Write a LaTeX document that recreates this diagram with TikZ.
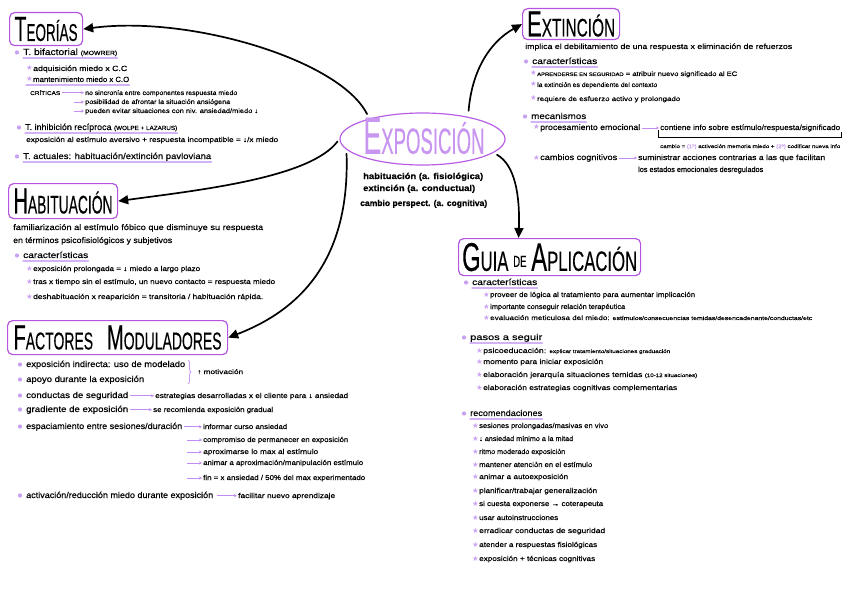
\documentclass[tikz,border=0pt]{standalone}
\usepackage{fontspec}
\setmainfont{Liberation Sans}[FakeBold=0.35]
\newfontfamily\djv{DejaVu Sans}
\usepackage{graphicx}
\usetikzlibrary{arrows.meta,decorations.pathreplacing,shapes.geometric}
\definecolor{boxc}{RGB}{180,85,225}
\definecolor{ellc}{RGB}{185,95,230}
\definecolor{bulc}{RGB}{200,160,240}
\definecolor{undc}{RGB}{212,178,248}
\definecolor{starc}{RGB}{205,165,245}
\definecolor{arrc}{RGB}{195,140,240}
\definecolor{expc}{RGB}{200,150,240}
\newcommand\fw[2]{\resizebox{#1pt}{\height}{#2}}
\newcommand\fs[1]{\fontsize{#1}{#1}\selectfont}
\newcommand\stg{\makebox[7pt][l]{\djv\fs{7.5}\textcolor{starc}{★}}}
\newcommand\ul[1]{\draw[undc,line width=1.1pt,line cap=round] ([yshift=-3pt]#1.base west) -- ([yshift=-3pt]#1.base east);}
\newcommand\bu[1]{\fill[bulc] ([xshift=-6pt,yshift=2.5pt]#1.base west) circle (2.1pt);}
\tikzset{
  t/.style={anchor=base west, inner sep=0pt, yshift=-2pt},
  s5/.style={t,font=\fontsize{5}{6}\selectfont},
  s55/.style={t,font=\fontsize{5.5}{6}\selectfont},
  s65/.style={t,font=\fontsize{6.5}{7}\selectfont},
  s7/.style={t,font=\fontsize{7}{8}\selectfont},
  s75/.style={t,font=\fontsize{7.5}{8}\selectfont},
  s8/.style={t,font=\fontsize{8}{9}\selectfont},
  s85/.style={t,font=\fontsize{8.5}{9}\selectfont},
  s9/.style={t,font=\fontsize{9}{10}\selectfont},
  cb/.style={t,font=\bfseries\fontsize{8.5}{9}\selectfont},
  st/.style={execute at begin node={\stg}},
  titlebox/.style={draw=boxc, line width=1.2pt, rounded corners=5pt, inner sep=0pt, anchor=north west},
  parr/.style={draw=arrc, line width=0.8pt, -{Stealth[length=3pt,width=3pt]}, shorten <=1.5pt, shorten >=1pt},
  bigarr/.style={line width=1.7pt, -{Triangle[length=10pt,width=9pt]}, line cap=round}
}
\begin{document}
\begin{tikzpicture}[x=1pt,y=-1pt]
\fill[white] (0,0) rectangle (848,599);
\useasboundingbox (0,0) rectangle (848,599);

% ---------- titles ----------
\node[titlebox, minimum width=73pt, minimum height=33pt] (teorias) at (9,12)
  {\resizebox{63pt}{24pt}{\fs{20}T\fs{14}EORÍAS}};
\node[titlebox, minimum width=109pt, minimum height=35pt] (habit) at (8,183)
  {\resizebox{99pt}{25pt}{\fs{20}H\fs{14}ABITUACIÓN}};
\node[titlebox, minimum width=220pt, minimum height=34pt] (factores) at (7,320)
  {\resizebox{208pt}{24pt}{\fs{20}F\fs{14}ACTORES\hspace{14pt}\fs{20}M\fs{14}ODULADORES}};
\node[titlebox, minimum width=97pt, minimum height=31pt] (extinct) at (522,8)
  {\resizebox{88pt}{25pt}{\fs{20}E\fs{14}XTINCIÓN}};
\node[titlebox, minimum width=182pt, minimum height=37pt] (guia) at (458,238)
  {\resizebox{175pt}{28pt}{\fs{20}G\fs{14}UIA\hspace{4pt}\raisebox{2pt}{\fs{8}DE}\hspace{4pt}\fs{20}A\fs{14}PLICACIÓN}};

% ---------- centre ----------
\node[ellipse, draw=ellc, line width=1.2pt, minimum width=165pt, minimum height=52pt, inner sep=0pt] (expo) at (422.5,139) {};
\node[inner sep=0pt, text=expc] (expotxt) at (424,136)
  {\resizebox{121pt}{36pt}{\fs{20}E\fs{14}XPOSICIÓN}};
\node[cb] (c1) at (363,177) {\fw{120}{habituación (a. fisiológica)}};
\node[cb] (c2) at (363,189) {\fw{112}{extinción (a. conductual)}};
\node[cb] (c3) at (360,204) {\fw{127}{cambio perspect. (a. cognitiva)}};

% ---------- big arrows ----------
\draw[bigarr, shorten <=5pt] (expo.159) .. controls (340,60) and (190,15) .. (teorias.east);
\draw[bigarr, shorten <=3pt] (expo.180) .. controls (310,178) and (200,190) .. (habit.east);
\draw[bigarr, shorten <=4pt] (expo.188) .. controls (350,260) and (300,310) .. (factores.east);
\draw[bigarr, shorten <=6pt] (expo.26) .. controls (472,70) and (490,42) .. (extinct.west);
\draw[bigarr, shorten <=4pt] (expo.-11) .. controls (515,165) and (520,195) .. ([xshift=-31pt]guia.north);

% ---------- TEORIAS ----------
\node[s9] (bif) at (23,53) {\fw{94}{T. bifactorial {\fs{6}(MOWRER)}}};
\bu{bif}\ul{bif}
\node[s75,st] (adq) at (26,69) {\fw{94}{adquisición miedo x C.C}};
\node[s75,st] (mant) at (26,80) {\fw{96}{mantenimiento miedo x C.O}};
\ul{mant}
\node[s55] (crit) at (30,93) {\fw{30}{CRÍTICAS}};
\node[s65] (nosinc) at (85,93) {\fw{152}{no sincronía entre componentes respuesta miedo}};
\node[s65] (posib) at (85,102) {\fw{145}{posibilidad de afrontar la situación ansiógena}};
\node[s65] (evit) at (85,111) {\fw{173}{pueden evitar situaciones con niv. ansiedad/miedo ↓}};
\coordinate (cr2) at (72,102);
\coordinate (cr3) at (72,111);
\draw[parr] (crit.east) -- (crit.east -| nosinc.west);
\draw[parr] (cr2) -- (cr2 -| posib.west);
\draw[parr] (cr3) -- (cr3 -| evit.west);
\node[s85] (inhib) at (25,128) {\fw{152}{T. inhibición recíproca {\fs{6}(WOLPE + LAZARUS)}}};
\bu{inhib}\ul{inhib}
\node[s7] (expal) at (26,140) {\fw{252}{exposición al estímulo aversivo + respuesta incompatible = ↓/x miedo}};
\node[s85] (actual) at (23,157) {\fw{188}{T. actuales: habituación/extinción pavloviana}};
\bu{actual}\ul{actual}

% ---------- HABITUACION ----------
\node[s8] (fam1) at (13,228) {\fw{250}{familiarización al estímulo fóbico que disminuye su respuesta}};
\node[s8] (fam2) at (13,241) {\fw{159}{en términos psicofisiológicos y subjetivos}};
\node[s85] (carH) at (23,256) {\fw{65}{características}};
\bu{carH}\ul{carH}
\node[s7,st] (h1) at (26,269) {\fw{167}{exposición prolongada = ↓ miedo a largo plazo}};
\node[s7,st] (h2) at (26,282) {\fw{242}{tras x tiempo sin el estímulo, un nuevo contacto = respuesta miedo}};
\node[s7,st] (h3) at (26,297) {\fw{230}{deshabituación x reaparición = transitoria / habituación rápida.}};

% ---------- FACTORES ----------
\node[s85] (f1) at (26,365) {\fw{159}{exposición indirecta: uso de modelado}};
\node[s85] (f2) at (26,380) {\fw{118}{apoyo durante la exposición}};
\bu{f1}\bu{f2}
\draw[bulc, line width=0.9pt, decorate, decoration={brace, amplitude=3pt}] (188,360) -- (188,384);
\node[s65] (motiv) at (197,372) {\fw{46}{↑ motivación}};
\node[s85] (f3) at (26,396) {\fw{102}{conductas de seguridad}};
\node[s7] (f3r) at (155,396) {\fw{193}{estrategias desarrolladas x el cliente para ↓ ansiedad}};
\node[s85] (f4) at (26,410) {\fw{102}{gradiente de exposición}};
\node[s7] (f4r) at (153,410) {\fw{120}{se recomienda exposición gradual}};
\node[s85] (f5) at (26,427) {\fw{156}{espaciamiento entre sesiones/duración}};
\node[s7] (f5a) at (203,427) {\fw{84}{informar curso ansiedad}};
\node[s7] (f5b) at (203,440) {\fw{145}{compromiso de permanecer en exposición}};
\node[s7] (f5c) at (203,452) {\fw{115}{aproximarse lo max al estímulo}};
\node[s7] (f5d) at (203,463) {\fw{160}{animar a aproximación/manipulación estímulo}};
\node[s7] (f5e) at (203,478) {\fw{162}{fin = x ansiedad / 50\% del max experimentado}};
\node[s85] (f6) at (26,496) {\fw{187}{activación/reducción miedo durante exposición}};
\node[s7] (f6r) at (238,496) {\fw{97}{facilitar nuevo aprendizaje}};
\bu{f3}\bu{f4}\bu{f5}\bu{f6}
\draw[parr] (f3.east) -- (f3.east -| f3r.west);
\draw[parr] (f4.east) -- (f4.east -| f4r.west);
\draw[parr] (f5.east) -- (f5.east -| f5a.west);
\coordinate (fb) at (185,440);
\coordinate (fc) at (185,452);
\coordinate (fd) at (185,463);
\coordinate (fe) at (185,478);
\draw[parr] (fb) -- (fb -| f5b.west);
\draw[parr] (fc) -- (fc -| f5c.west);
\draw[parr] (fd) -- (fd -| f5d.west);
\draw[parr] (fe) -- (fe -| f5e.west);
\draw[parr, shorten <=4pt] (f6.east) -- (f6.east -| f6r.west);

% ---------- EXTINCION ----------
\node[s75] (impl) at (525,47) {\fw{267}{implica el debilitamiento de una respuesta x eliminación de refuerzos}};
\node[s85] (carE) at (532,62) {\fw{65}{características}};
\bu{carE}\ul{carE}
\node[s65,st] (e1) at (530,74) {\fw{200}{{\fs{5}APRENDERSE EN SEGURIDAD} = atribuir nuevo significado al EC}};
\node[s65,st] (e2) at (530,85) {\fw{120}{la extinción es dependiente del contexto}};
\node[s65,st] (e3) at (530,99) {\fw{143}{requiere de esfuerzo activo y prolongado}};
\node[s85] (mec) at (531,117) {\fw{55}{mecanismos}};
\bu{mec}\ul{mec}
\node[s8,st] (proc) at (533,128) {\fw{100}{procesamiento emocional}};
\node[s75] (cont) at (660,128) {\fw{180}{contiene info sobre estímulo/respuesta/significado}};
\draw[parr] (proc.east) -- (proc.east -| cont.west);
\draw[line width=0.5pt] ([xshift=-2pt,yshift=0pt]cont.base west) -- ([xshift=-2pt,yshift=-7pt]cont.base west)
   -- ([xshift=1pt,yshift=-7pt]cont.base east) -- ([xshift=1pt,yshift=-2pt]cont.base east);
\node[s5] (camb) at (660,146) {\fw{180}{cambio = \textcolor{bulc}{(1º)} activación memoria miedo + \textcolor{bulc}{(2º)} codificar nueva info}};
\node[s8,st] (cog) at (533,158) {\fw{77}{cambios cognitivos}};
\node[s75] (sum1) at (638,158) {\fw{187}{suministrar acciones contrarias a las que facilitan}};
\node[s75] (sum2) at (638,170) {\fw{125}{los estados emocionales desregulados}};
\draw[parr] (cog.east) -- (cog.east -| sum1.west);

% ---------- GUIA ----------
\node[s85] (carG) at (472,283) {\fw{65}{características}};
\bu{carG}\ul{carG}
\node[s7,st] (g1) at (483,295) {\fw{205}{proveer de lógica al tratamiento para aumentar implicación}};
\node[s7,st] (g2) at (483,307) {\fw{135}{importante conseguir relación terapéutica}};
\node[s65,st] (g3) at (483,318) {\fw{322}{evaluación meticulosa del miedo: {\fs{5.5}estímulos/consecuencias temidas/desencadenante/conductas/etc}}};
\node[s85] (pasos) at (470,338) {\fw{72}{pasos a seguir}};
\bu{pasos}\ul{pasos}
\node[s7,st] (p1) at (476,351) {\fw{187}{psicoeducación: {\fs{5}explicar tratamiento/situaciones graduación}}};
\node[s7,st] (p2) at (476,362) {\fw{120}{momento para iniciar exposición}};
\node[s7,st] (p3) at (476,375) {\fw{214}{elaboración jerarquía situaciones temidas {\fs{5}(10-12 situaciones)}}};
\node[s7,st] (p4) at (476,388) {\fw{194}{elaboración estrategias cognitivas complementarias}};
\node[s85] (rec) at (470,414) {\fw{72}{recomendaciones}};
\bu{rec}\ul{rec}
\node[s7,st] (r1) at (472,426) {\fw{129}{sesiones prolongadas/masivas en vivo}};
\node[s7,st] (r2) at (472,439) {\fw{94}{↓ ansiedad mínimo a la mitad}};
\node[s7,st] (r3) at (472,452) {\fw{86}{ritmo moderado exposición}};
\node[s7,st] (r4) at (472,465) {\fw{113}{mantener atención en el estímulo}};
\node[s7,st] (r5) at (472,477) {\fw{89}{animar a autoexposición}};
\node[s7,st] (r6) at (472,491) {\fw{118}{planificar/trabajar generalización}};
\node[s7,st] (r7) at (472,504) {\fw{124}{si cuesta exponerse → coterapeuta}};
\node[s7,st] (r8) at (472,518) {\fw{79}{usar autoinstrucciones}};
\node[s7,st] (r9) at (472,531) {\fw{126}{erradicar conductas de seguridad}};
\node[s7,st] (r10) at (472,545) {\fw{118}{atender a respuestas fisiológicas}};
\node[s7,st] (r11) at (472,559) {\fw{116}{exposición + técnicas cognitivas}};
\end{tikzpicture}
\end{document}
